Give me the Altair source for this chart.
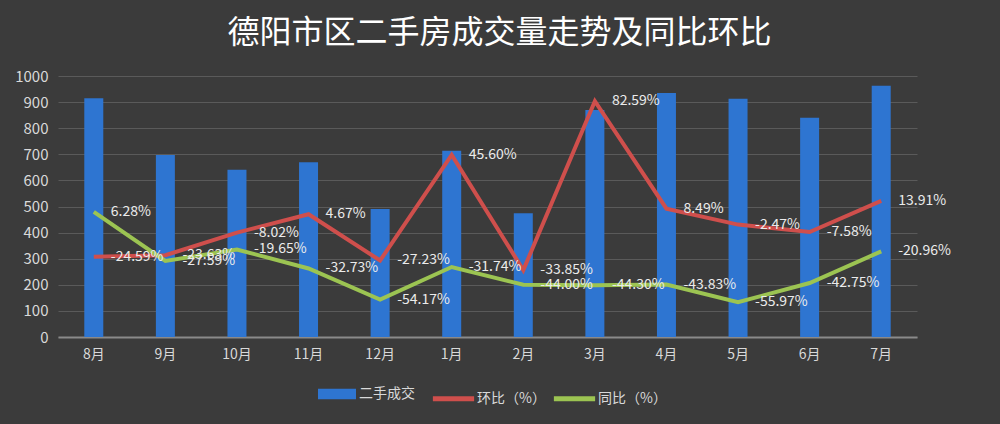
import altair as alt
import pandas as pd

months = ["8月", "9月", "10月", "11月", "12月", "1月", "2月", "3月", "4月", "5月", "6月", "7月"]
volume = [915, 697, 641, 670, 490, 714, 474, 870, 935, 913, 840, 963]
mom = [-24.59, -23.63, -8.02, 4.67, -27.23, 45.60, -33.85, 82.59, 8.49, -2.47, -7.58, 13.91]
yoy = [6.28, -27.59, -19.65, -32.73, -54.17, -31.74, -44.00, -44.30, -43.83, -55.97, -42.75, -20.96]

bar_name = "二手成交"
mom_name = "环比（%）"
yoy_name = "同比（%）"

FONT = "Noto Sans CJK SC"
TXT = "#d9d9d9"

bar_df = pd.DataFrame({"month": months, "volume": volume, "series": bar_name})
line_df = pd.DataFrame({
    "month": months * 2,
    "value": mom + yoy,
    "series": [mom_name] * 12 + [yoy_name] * 12,
})
line_df["label"] = line_df["value"].map(lambda v: f"{v:.2f}%")

x_enc = alt.X(
    "month:N", sort=months,
    scale=alt.Scale(paddingInner=0, paddingOuter=0),
    axis=alt.Axis(title=None, labelAngle=0, labelColor=TXT, labelFontSize=14, labelFont=FONT,
                  ticks=False, labelPadding=10, domainColor="#8a8a8a", domainWidth=2, grid=False),
)

bars = alt.Chart(bar_df).mark_bar(size=19).encode(
    x=x_enc,
    y=alt.Y("volume:Q", scale=alt.Scale(domain=[0, 1000], nice=False),
            axis=alt.Axis(title=None, values=list(range(0, 1001, 100)), format="d",
                          labelColor=TXT, labelFontSize=15, labelFont=FONT, ticks=False,
                          domain=False, labelPadding=10, grid=True, gridColor="#5a5a5a",
                          gridWidth=1)),
    color=alt.Color("series:N", scale=alt.Scale(domain=[bar_name], range=["#2e75d1"]),
                    legend=alt.Legend(title=None, orient="none", legendX=260, legendY=299,
                                      symbolType="M-1,-0.28L1,-0.28L1,0.28L-1,0.28Z",
                                      symbolSize=1444, symbolStrokeWidth=0,
                                      labelColor=TXT, labelFontSize=14, labelFont=FONT,
                                      labelOffset=3, padding=0)),
)

right_scale = alt.Scale(domain=[-80, 100], nice=False)

lines = alt.Chart(line_df).mark_line(strokeWidth=4).encode(
    x=x_enc,
    y=alt.Y("value:Q", scale=right_scale,
            axis=alt.Axis(title=None, orient="right", values=list(range(-80, 101, 20)),
                          labelExpr="format(datum.value, '.2f') + '%'",
                          labelColor=TXT, labelFontSize=15, labelFont=FONT, ticks=False,
                          domain=False, grid=False, labelPadding=10)),
    color=alt.Color("series:N", sort=[mom_name, yoy_name],
                    scale=alt.Scale(domain=[mom_name, yoy_name], range=["#cf4f4c", "#9cc452"]),
                    legend=alt.Legend(title=None, orient="none", direction="horizontal",
                                      legendX=372, legendY=299, symbolType="stroke",
                                      symbolSize=1700, symbolStrokeWidth=5,
                                      labelColor=TXT, labelFontSize=14, labelFont=FONT,
                                      labelOffset=0, columnPadding=-3, padding=0)),
)

texts = alt.Chart(line_df).mark_text(align="left", baseline="middle", dx=17, fontSize=14,
                                     font=FONT, color="#ebebeb").encode(
    x=x_enc,
    y=alt.Y("value:Q", scale=right_scale, axis=None),
    text="label:N",
)

chart = alt.layer(bars, alt.layer(lines, texts)).resolve_scale(
    y="independent", color="independent"
).properties(
    width=859, height=261,
    padding={"left": 58, "top": 76, "right": 83, "bottom": 87},
    autosize=alt.AutoSizeParams(type="none"),
    background="#3b3b3b",
    title=alt.TitleParams("德阳市区二手房成交量走势及同比环比", fontSize=32, color="#ffffff",
                          font=FONT, fontWeight="normal", anchor="middle", offset=19, dx=12),
).configure_view(stroke=None)

chart.save("out.html", embed_options={"renderer": "svg", "actions": False})
